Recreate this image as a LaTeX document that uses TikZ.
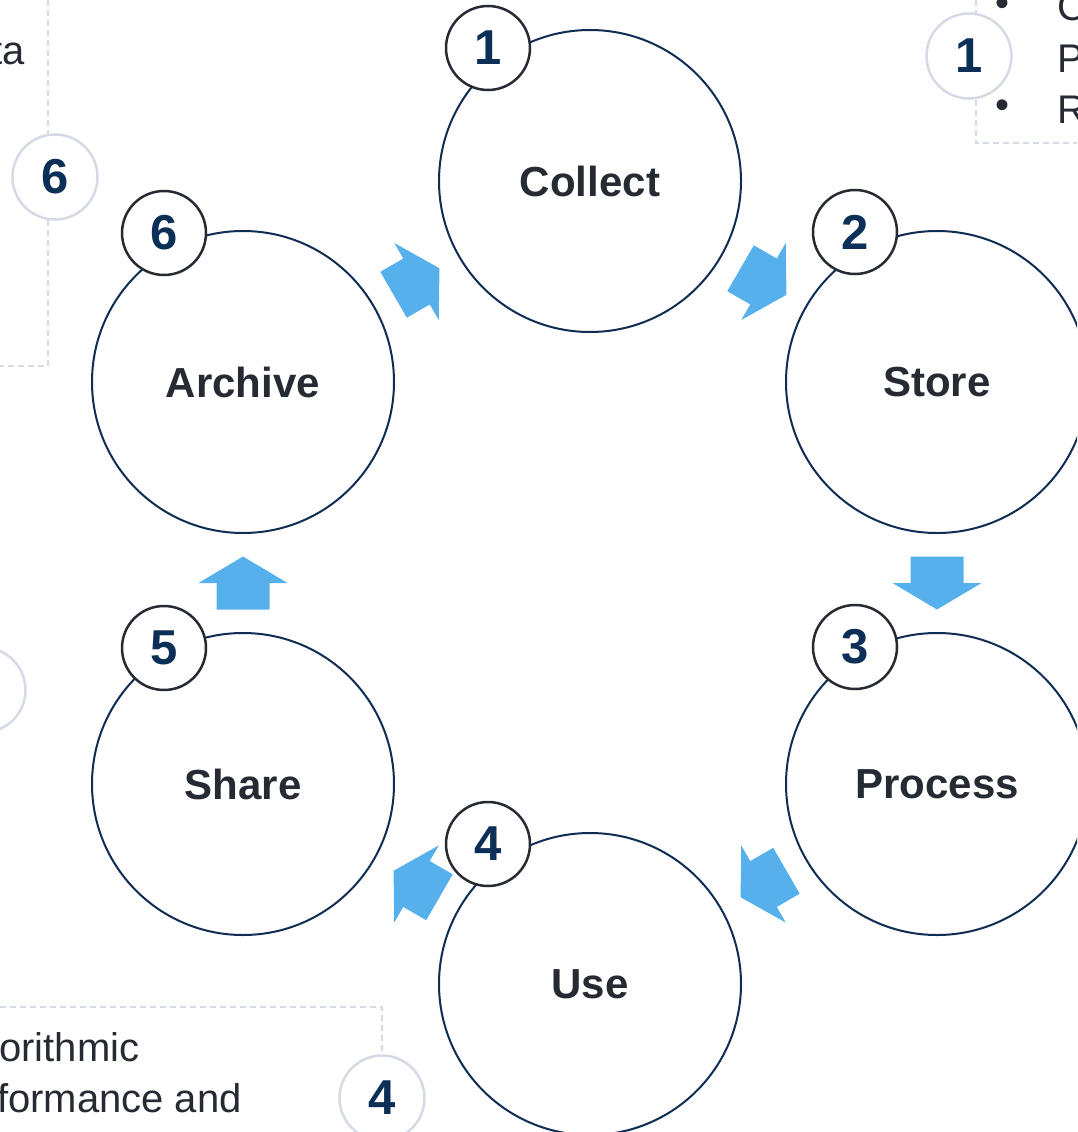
\documentclass[tikz,border=0pt]{standalone}
\usepackage{fontspec}
\setmainfont{Liberation Sans}
\usetikzlibrary{calc}
\usetikzlibrary{positioning}
\definecolor{ringnavy}{RGB}{15,45,82}
\definecolor{numnavy}{RGB}{12,47,88}
\definecolor{inkgray}{RGB}{38,42,50}
\definecolor{flowblue}{RGB}{86,176,236}
\definecolor{notegray}{RGB}{213,219,229}
\tikzset{
    stage/.style = {circle, line width=2pt, draw=ringnavy, fill=white, minimum size=302pt, inner sep=0pt, font=\bfseries\fontsize{42}{42}\selectfont, text=inkgray},
    stepnum/.style = {circle, line width=2.5pt, draw=inkgray, fill=white, minimum size=84pt, inner sep=0pt, font=\bfseries\fontsize{49}{49}\selectfont, text=numnavy},
    notenum/.style = {circle, line width=2.5pt, draw=notegray, fill=white, minimum size=85pt, inner sep=0pt, font=\bfseries\fontsize{49}{49}\selectfont, text=numnavy},
    notetext/.style = {inner sep=0pt, font=\fontsize{40}{48}\selectfont, text=inkgray},
    noteline/.style = {line width=1.5pt, draw=notegray, dash pattern=on 6pt off 4pt},
    flow/.style = {fill=flowblue}
}

\begin{document}
\begin{tikzpicture}[x=1pt, y=-1pt]
  \useasboundingbox (0,0) rectangle (1077,1132);
  \clip (0,0) rectangle (1077,1132);

  % side notes, cut by the frame
  \coordinate (tlcorner) at (48,366);
  \coordinate (trcorner) at (976,143);
  \coordinate (blcorner) at (382,1007);
  \draw[noteline] (48,0) -- (tlcorner) -- (0,366);
  \draw[noteline] (976,0) -- (trcorner) -- (1077,143);
  \draw[noteline] (0,1007) -- (blcorner) -- (382,1132);
  \node (note6) at (55,177) [notenum] {6};
  \node (note1) at (969,56) [notenum] {1};
  \node (note4) at (382,1098) [notenum] {4};
  \node (notex) at (-17,690) [notenum] {};
  \node (txtdata) at (25,65) [notetext, anchor=base east] {ta};
  \node (bulc) at (1002,7) [notetext] {\textbullet};
  \node (bulr) at (1002,109) [notetext] {\textbullet};
  \node (txtc) at (1057,21) [notetext, anchor=base west] {C};
  \node (txtp) at (1057,72) [notetext, anchor=base west] {P};
  \node (txtr) at (1057,123) [notetext, anchor=base west] {R};
  \node (txtalg) at (-1,1061) [notetext, anchor=base west] {orithmic};
  \node (txtperf) at (-3,1112) [notetext, anchor=base west] {formance and};

  % the six stages
  \node (collect) at (590,181) [stage] {Collect};
  \node (store) at (937,382) [stage] {Store};
  \node (process) at (937,784) [stage] {Process};
  \node (use) at (590,984) [stage] {Use};
  \node (share) at (243,784) [stage] {Share};
  \node (archive) at (243,382) [stage] {Archive};

  \node (num1) at (488,48) [stepnum] {1};
  \node (num2) at (855,232) [stepnum] {2};
  \node (num3) at (855,647) [stepnum] {3};
  \node (num4) at (488,844) [stepnum] {4};
  \node (num5) at (164,648) [stepnum] {5};
  \node (num6) at (164,233) [stepnum] {6};

  % block arrows half way between stages
  \foreach \from/\to/\ang in {archive/collect/30, collect/store/-30, store/process/-90,
                              process/use/-150, use/share/150, share/archive/90}
    \fill[flow, shift={($(\from)!0.5!(\to)$)}, rotate=\ang]
      (-26.5,-26.5) -- (0,-26.5) -- (0,-44.5) -- (26.5,0) -- (0,44.5) -- (0,26.5) -- (-26.5,26.5) -- cycle;
\end{tikzpicture}
\end{document}
